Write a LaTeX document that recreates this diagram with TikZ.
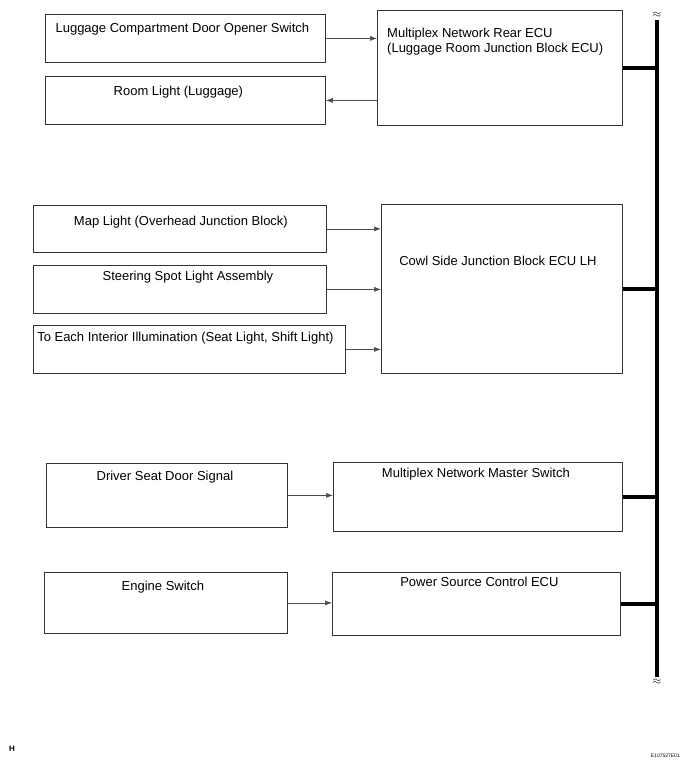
\documentclass[tikz,border=0pt]{standalone}
\usepackage{fontspec}
\setmainfont{Liberation Sans}
\usepackage{tikz}
\usetikzlibrary{arrows.meta, calc, positioning}
\usepackage{xcolor}

\tikzset{
  box/.style={draw=black!80, line width=0.8pt, anchor=north west, inner sep=0pt},
  lbl/.style={anchor=base, inner sep=0pt, font=\fontsize{13}{15}\selectfont},
  arr/.style={draw=black!70, line width=0.6pt, -{Latex[length=7pt,width=5pt]}},
  bus/.style={line width=4pt}
}

\begin{document}
\begin{tikzpicture}[x=1pt, y=-1pt]
  \useasboundingbox (0,0) rectangle (687,766);

  % rear ECU group
  \node[box, minimum width=280pt, minimum height=48pt] (lug) at (45,14) {};
  \node[box, minimum width=280pt, minimum height=48pt] (room) at (45,76) {};
  \node[box, minimum width=245pt, minimum height=115pt] (rear) at (377,10) {};
  \node[lbl] (luglbl) at ($(lug.north)+(-3,18)$) {Luggage Compartment Door Opener Switch};
  \node[lbl] (roomlbl) at ($(room.north)+(-7,19)$) {Room Light (Luggage)};
  \node[lbl, anchor=base west, align=left] (rearlbl) at ($(rear.north west)+(10,42)$)
    {Multiplex Network Rear ECU\\(Luggage Room Junction Block ECU)};
  \draw[arr] (lug.east) -- (lug.east -| rear.west);
  \draw[arr] (room.east -| rear.west) -- (room.east);

  % cowl side group
  \node[box, minimum width=293pt, minimum height=47pt] (map) at (33,205) {};
  \node[box, minimum width=293pt, minimum height=48pt] (steer) at (33,265) {};
  \node[box, minimum width=312pt, minimum height=48pt] (each) at (33,325) {};
  \node[box, minimum width=241pt, minimum height=169pt] (cowl) at (381,204) {};
  \node[lbl] (maplbl) at ($(map.north)+(1,20)$) {Map Light (Overhead Junction Block)};
  \node[lbl] (steerlbl) at ($(steer.north)+(8,15)$) {Steering Spot Light Assembly};
  \node[lbl] (eachlbl) at ($(each.north)+(-4,16)$) {To Each Interior Illumination (Seat Light, Shift Light)};
  \node[lbl] (cowllbl) at ($(cowl.north)+(-4,61)$) {Cowl Side Junction Block ECU LH};
  \draw[arr] (map.east) -- (map.east -| cowl.west);
  \draw[arr] (steer.east) -- (steer.east -| cowl.west);
  \draw[arr] (each.east) -- (each.east -| cowl.west);

  % master switch and power source
  \node[box, minimum width=241pt, minimum height=64pt] (driver) at (46,463) {};
  \node[box, minimum width=243pt, minimum height=61pt] (engine) at (44,572) {};
  \node[box, minimum width=289pt, minimum height=69pt] (master) at (333,462) {};
  \node[box, minimum width=288pt, minimum height=63pt] (power) at (332,572) {};
  \node[lbl] (driverlbl) at ($(driver.north)+(-2,17)$) {Driver Seat Door Signal};
  \node[lbl] (enginelbl) at ($(engine.north)+(-3,18)$) {Engine Switch};
  \node[lbl] (masterlbl) at ($(master.north)+(-2,15)$) {Multiplex Network Master Switch};
  \node[lbl] (powerlbl) at ($(power.north)+(3,14)$) {Power Source Control ECU};
  \draw[arr] (driver.east) -- (driver.east -| master.west);
  \draw[arr] (engine.east) -- (engine.east -| power.west);

  % bus line
  \coordinate (bt) at (657,20);
  \coordinate (bb) at (657,677);
  \draw[bus] (bt) -- (bb);
  \node[inner sep=0pt, font=\fontsize{11}{11}\selectfont] (btop) at ($(bt)+(0,-5)$) {$\approx$};
  \node[inner sep=0pt, font=\fontsize{11}{11}\selectfont] (bbot) at ($(bb)+(0,5)$) {$\approx$};
  \foreach \n in {rear, cowl, master, power}
    \draw[bus] (\n.east) -- (\n.east -| bt);

  % footer
  \node[anchor=base west, inner sep=0pt, font=\fontsize{8}{8}\selectfont\bfseries] (hmark) at (9,751) {H};
  \node[anchor=base east, inner sep=0pt, font=\fontsize{5}{5}\selectfont] (figno) at (680,757) {E107527E01};
\end{tikzpicture}
\end{document}
